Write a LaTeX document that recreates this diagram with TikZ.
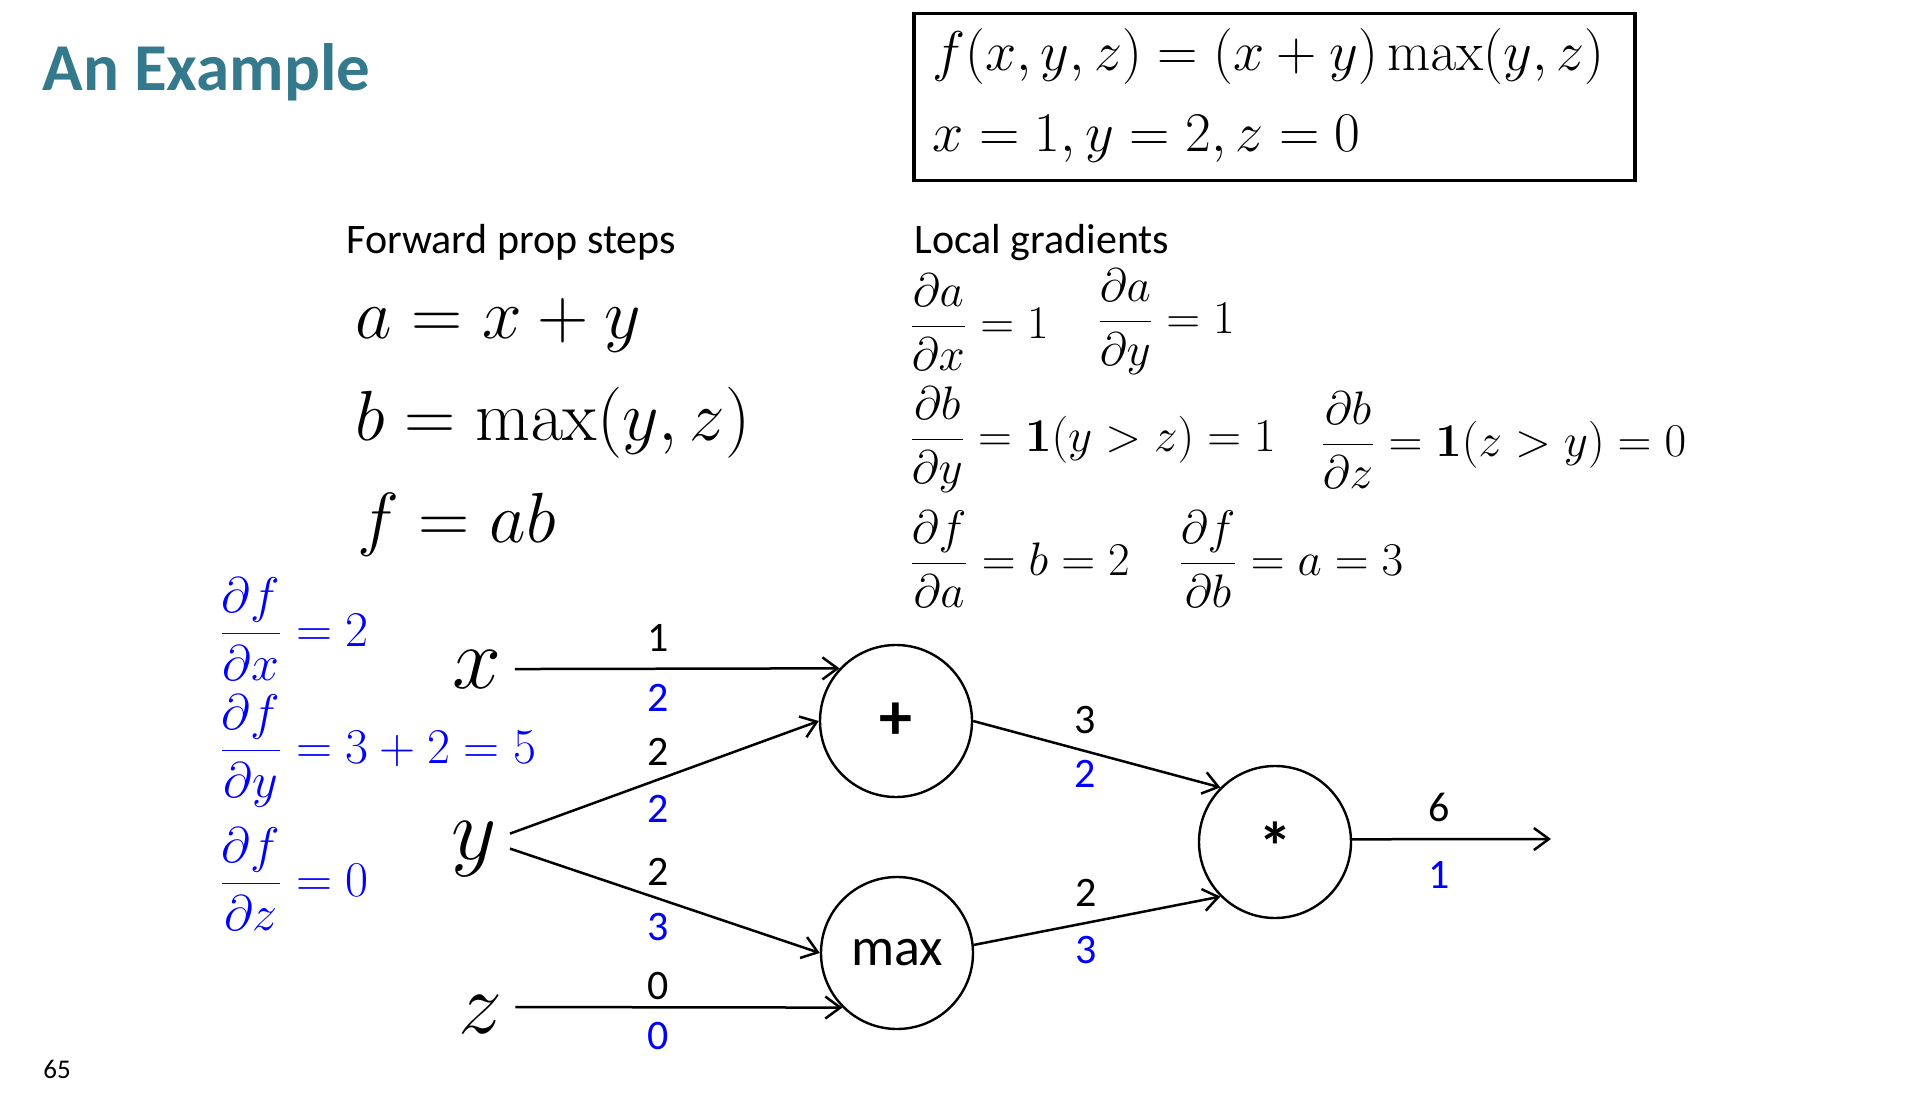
\RequirePackage{fix-cm}
\documentclass[tikz,border=0pt]{standalone}
\usepackage[no-math]{fontspec}
\newfontfamily\calibri{Carlito}
\usetikzlibrary{arrows.meta}
\definecolor{titleteal}{RGB}{52,122,140}
\definecolor{gradblue}{RGB}{0,0,255}
\newcommand\dfr[2]{{\displaystyle\frac{#1}{#2}}}
\tikzset{
  txt/.style={inner sep=0pt, anchor=base west, font=\calibri\fontsize{21}{25}\selectfont},
  fwd/.style={inner sep=0pt, anchor=base west, font=\fontsize{35.5}{41}\selectfont},
  boxeq/.style={inner sep=0pt, anchor=base west, font=\fontsize{28}{33}\selectfont},
  loc/.style={inner sep=0pt, anchor=west, font=\fontsize{23.5}{28}\selectfont},
  bl/.style={inner sep=0pt, anchor=west, text=gradblue, font=\fontsize{25}{30}\selectfont},
  var/.style={inner sep=6.5pt, anchor=base, font=\fontsize{44}{50}\selectfont},
  opnode/.style={circle, draw, line width=1.2pt, minimum size=76pt, inner sep=0pt},
  val/.style={inner sep=0pt, font=\calibri\fontsize{21}{25}\selectfont},
  grad/.style={val, text=gradblue},
  conn/.style={line width=1.25pt, -{Straight Barb[length=7.5pt,width=11pt,line width=1.25pt]}}
}
\begin{document}
\begin{tikzpicture}[x=0.5pt,y=-0.5pt]
\useasboundingbox (0,0) rectangle (1918,1096);

% title
\node[anchor=base west, inner sep=0pt, text=titleteal, font=\calibri\bfseries\fontsize{33.5}{40}\selectfont] (title) at (42,91) {An Example};

% boxed function
\node[draw, line width=1.75pt, minimum width=360.5pt, minimum height=83.5pt, inner sep=0pt, anchor=north west] (fbox) at (912,12) {};
\node[boxeq] (feq) at (932,71) {$f(x,y,z)=(x+y)\max(y,z)$};
\node[boxeq] (fval) at (932,152) {$x=1,y=2,z=0$};

% forward prop
\node[txt] (fwdh) at (346,254) {Forward prop steps};
\node[fwd] (fa) at (355,339) {$a=x+y$};
\node[fwd] (fb) at (355,441) {$b=\max(y,z)$};
\node[fwd] (ff) at (357,543) {$f=ab$};

% local gradients
\node[txt] (loch) at (914,254) {Local gradients};
\node[loc] (l1a) at (909,322) {$\dfr{\partial a}{\partial x}=1$};
\node[loc] (l1b) at (1097,322) {$\dfr{\partial a}{\partial y}=1$};
\node[loc] (l2a) at (909,440) {$\dfr{\partial b}{\partial y}=\mathbf{1}(y>z)=1$};
\node[loc] (l2b) at (1320,440) {$\dfr{\partial b}{\partial z}=\mathbf{1}(z>y)=0$};
\node[loc] (l3a) at (909,559) {$\dfr{\partial f}{\partial a}=b=2$};
\node[loc] (l3b) at (1178,559) {$\dfr{\partial f}{\partial b}=a=3$};

% blue gradients
\node[bl] (gx) at (219,629) {$\dfr{\partial f}{\partial x}=2$};
\node[bl] (gy) at (219,751) {$\dfr{\partial f}{\partial y}=3+2=5$};
\node[bl] (gz) at (219,879) {$\dfr{\partial f}{\partial z}=0$};

% variables
\node[var] (xv) at (477,688) {$x$};
\node[var] (yv) at (474,859) {$y$};
\node[var] (zv) at (480,1033) {$z$};

% operation nodes
\node[opnode, font=\calibri\bfseries\fontsize{33}{36}\selectfont] (plus) at (896,721) {+};
\node[opnode, font=\calibri\fontsize{27}{32}\selectfont] (mx) at (897,953) {max};
\node[opnode, font=\calibri\bfseries\fontsize{34}{36}\selectfont] (mul) at (1275,842) {*\rule{0pt}{28pt}};
\coordinate (outend) at (1551,839);

% connectors
\draw[conn] (xv.east) -- (plus.137);
\draw[conn] ([yshift=7.5pt]yv.east) -- (plus.west);
\draw[conn] (yv.east) -- (mx.west);
\draw[conn] ([yshift=3.5pt]zv.east) -- (mx.225);
\draw[conn] (plus.east) -- (mul.135);
\draw[conn] (mx.6) -- (mul.225);
\draw[conn] (mul.2) -- (outend);

% values (forward, black) and gradients (blue)
\node[val] (vx) at (658,638) {1};
\node[grad] (dx) at (658,698) {2};
\node[val] (vya) at (658,752) {2};
\node[grad] (dya) at (658,809) {2};
\node[val] (vyb) at (658,872) {2};
\node[grad] (dyb) at (658,927) {3};
\node[val] (vz) at (658,986) {0};
\node[grad] (dz) at (658,1036) {0};
\node[val] (va) at (1085,720) {3};
\node[grad] (da) at (1085,774) {2};
\node[val] (vb) at (1086,893) {2};
\node[grad] (db) at (1086,950) {3};
\node[val] (vf) at (1439,807) {6};
\node[grad] (df) at (1439,875) {1};

% page number
\node[anchor=base west, inner sep=0pt, font=\calibri\fontsize{13.5}{16}\selectfont] (pg) at (43,1078) {65};
\end{tikzpicture}
\end{document}
